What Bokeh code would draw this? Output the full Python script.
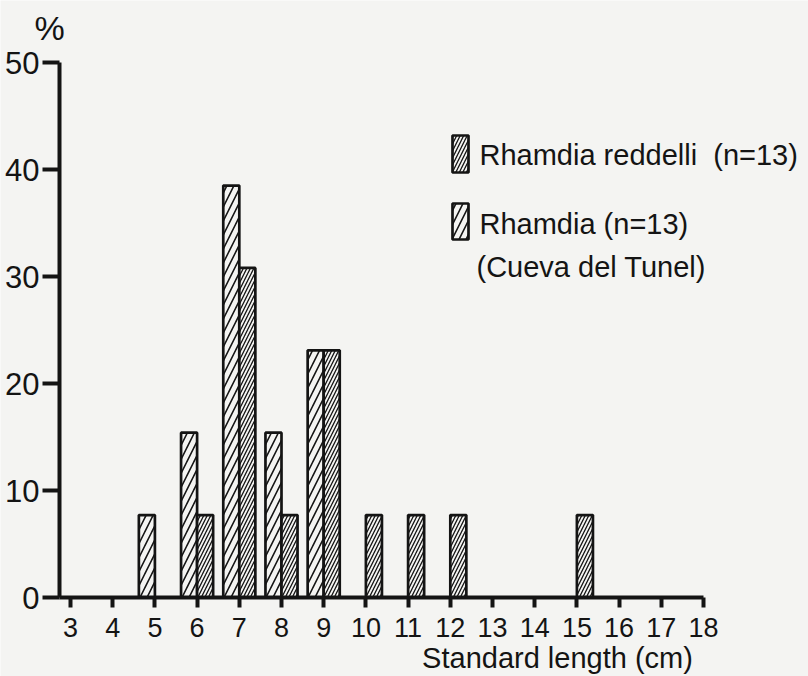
from bokeh.plotting import figure
from bokeh.models import Range1d, Label, ColumnDataSource
from bokeh.transform import dodge
from bokeh.embed import file_html
from bokeh.resources import INLINE

# Size classes (standard length, cm) and percentage of fish per class
length_ticks = list(range(3, 19))
pct_ticks = [0, 10, 20, 30, 40, 50]

tunel_len = [5, 6, 7, 8, 9]
tunel_pct = [7.7, 15.4, 38.5, 15.4, 23.1]

reddelli_len = [6, 7, 8, 9, 10, 11, 12, 15]
reddelli_pct = [7.7, 30.8, 7.7, 23.1, 7.7, 7.7, 7.7, 7.7]

BG = "#f4f4f2"
INK = "#141414"
FONT = "Liberation Sans"

# canvas and axis geometry in pixels; the plotting frame fills the canvas
W, H = 808, 676
AX_LEFT, AX_RIGHT, AX_TOP, AX_BOTTOM = 59, 703, 62, 597
X_END = 18.0
Y_END = 50.0
PX_PER_X = 42.2
PX_PER_Y = (AX_BOTTOM - AX_TOP) / Y_END
X_START = X_END - (AX_RIGHT - AX_LEFT) / PX_PER_X
BASELINE_SHIFT = 9  # labels sit this many pixels below their anchor


def px_x(px):
    return X_START + (px - AX_LEFT) / PX_PER_X


def px_y(py):
    return (AX_BOTTOM - py) / PX_PER_Y


p = figure(width=W, height=H, output_backend="svg", toolbar_location=None,
           x_range=Range1d(px_x(0), px_x(W)), y_range=Range1d(px_y(H), px_y(0)),
           min_border=0, min_border_left=0, min_border_right=0,
           min_border_top=0, min_border_bottom=0,
           background_fill_color=BG, border_fill_color=BG,
           outline_line_color=None)
p.grid.visible = False

for ax in (p.xaxis[0], p.yaxis[0]):
    ax.axis_line_width = 4
    ax.axis_line_color = INK
    ax.major_tick_line_width = 4
    ax.major_tick_line_color = INK
    ax.minor_tick_line_color = None
    ax.major_tick_in = 0
    ax.major_label_text_font = FONT
    ax.major_label_text_color = INK

# axes drawn inside the frame at the data origin, limited to their spans
p.xaxis.fixed_location = 0
p.xaxis.bounds = (X_START, X_END)
p.xaxis.ticker = length_ticks
p.xaxis.major_tick_out = 10
p.xaxis.major_label_standoff = 10
p.xaxis.major_label_text_font_size = "27px"

p.yaxis.fixed_location = X_START
p.yaxis.bounds = (0, Y_END)
p.yaxis.ticker = pct_ticks
p.yaxis.major_tick_out = 17
p.yaxis.major_label_standoff = 3
p.yaxis.major_label_text_font_size = "31px"

BAR_W = 0.38
tunel = ColumnDataSource(dict(x=tunel_len, pct=tunel_pct))
reddelli = ColumnDataSource(dict(x=reddelli_len, pct=reddelli_pct))

SPARSE = dict(hatch_pattern="/", hatch_color=INK, hatch_scale=14, hatch_weight=1.6)
DENSE = dict(hatch_pattern="/", hatch_color=INK, hatch_scale=7, hatch_weight=1.3)

p.vbar(x=dodge("x", -BAR_W / 2), top="pct", width=BAR_W, source=tunel,
       fill_color=BG, line_color=INK, line_width=2.7, **SPARSE)
p.vbar(x=dodge("x", BAR_W / 2), top="pct", width=BAR_W, source=reddelli,
       fill_color=BG, line_color=INK, line_width=2.7, **DENSE)

# legend swatches
p.quad(left=[px_x(452)], right=[px_x(468)], top=[px_y(135)], bottom=[px_y(172)],
       fill_color=BG, line_color=INK, line_width=2.7, **DENSE)
p.quad(left=[px_x(452)], right=[px_x(468)], top=[px_y(203)], bottom=[px_y(239)],
       fill_color=BG, line_color=INK, line_width=2.7, **SPARSE)


def label(px, py, text, size, align="left"):
    p.add_layout(Label(x=px_x(px), y=px_y(py - BASELINE_SHIFT), text=text,
                       text_font=FONT, text_font_size=size, text_color=INK,
                       text_baseline="alphabetic", text_align=align))


label(479, 163, "Rhamdia reddelli\u00a0 (n=13)", "29px")
label(479, 232, "Rhamdia (n=13)", "29px")
label(476, 275, "(Cueva del Tunel)", "29px")
label(34, 36, "%", "34px")
label(557, 666, "Standard length (cm)", "29px", align="center")

open("out.html", "w").write(file_html(p, INLINE))
